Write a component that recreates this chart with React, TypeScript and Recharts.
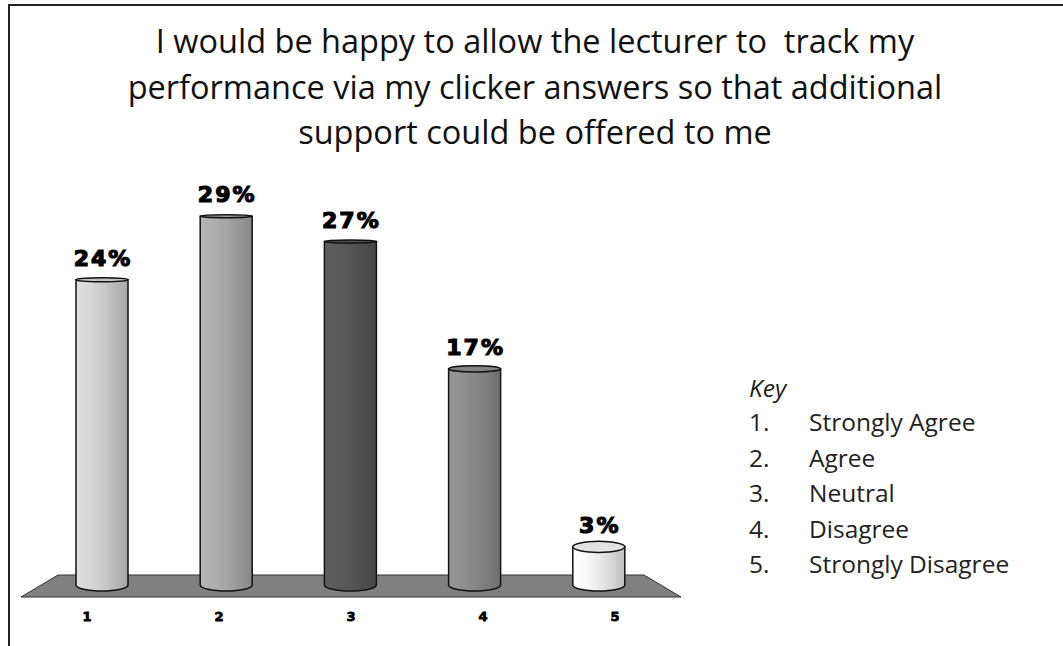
import React from "react";
import { BarChart, Bar, XAxis, YAxis, LabelList } from "recharts";

const categories = ["1", "2", "3", "4", "5"];
const percentValues = [24, 29, 27, 17, 3];
const barColors = ["#cfcfcf", "#a8a8a8", "#575757", "#8a8a8a", "#efefef"];
const keyNumbers = ["1.", "2.", "3.", "4.", "5."];
const keyLabels = ["Strongly Agree", "Agree", "Neutral", "Disagree", "Strongly Disagree"];
const titleLines = [
  "I would be happy to allow the lecturer to  track my",
  "performance via my clicker answers so that additional",
  "support could be offered to me",
];
const keyTitle = "Key";

const data = categories.map((c, i) => ({ category: c, value: percentValues[i] }));

function shade(hex: string, f: number): string {
  const n = parseInt(hex.slice(1), 16);
  const r = Math.min(255, Math.round(((n >> 16) & 255) * f));
  const g = Math.min(255, Math.round(((n >> 8) & 255) * f));
  const b = Math.min(255, Math.round((n & 255) * f));
  return `rgb(${r},${g},${b})`;
}

const Cylinder = (props: any) => {
  const { x, y, width, height, index } = props;
  const rx = width / 2;
  const cx = x + rx;
  const ryTop = Math.max(1.5, (y - 135) * 0.0135);
  const bottom = y + height;
  const ryBot = Math.max(1.5, (bottom - 135) * 0.0135);
  const body = `M${x},${y} L${x},${bottom} A${rx},${ryBot} 0 0 0 ${x + width},${bottom} L${x + width},${y} Z`;
  return (
    <g>
      <path d={body} fill={`url(#cyl${index})`} stroke="#111" strokeWidth={1.5} />
      <ellipse cx={cx} cy={y} rx={rx} ry={ryTop} fill={shade(barColors[index], 0.95)} stroke="#111" strokeWidth={1.5} />
    </g>
  );
};

const renderLabel = (p: any) => {
  const { x, y, width, value } = p;
  return (
    <text
      x={x + width / 2 + 1}
      y={y - 14}
      textAnchor="middle"
      fontFamily="DejaVu Sans"
      fontWeight="bold"
      fontSize={22}
      fill="#000"
      stroke="#000"
      strokeWidth={1.2}
      letterSpacing={2}
    >
      {value}%
    </text>
  );
};

export default function App() {
  return (
    <div style={{ position: "absolute", left: 0, top: 0, width: 1063, height: 646, overflow: "hidden", background: "#fff" }}>
      <div
        style={{
          position: "absolute",
          left: 8,
          top: 4,
          width: 1200,
          height: 800,
          borderLeft: "2px solid #222",
          borderTop: "2px solid #222",
        }}
      />
      <svg style={{ position: "absolute", left: 0, top: 0 }} width={1063} height={646}>
        <polygon points="58,575 644,575 681,597 21,597" fill="#808080" stroke="#333" strokeWidth={1} />
      </svg>
      <div
        style={{
          position: "absolute",
          left: 0,
          top: 18,
          width: 1070,
          textAlign: "center",
          fontFamily: "Open Sans",
          fontSize: 32.5,
          lineHeight: "45.5px",
          color: "#111",
          whiteSpace: "pre",
        }}
      >
        {titleLines.map((l, i) => (
          <div key={i}>{l}</div>
        ))}
      </div>
      <div style={{ position: "absolute", left: 0, top: 0 }}>
        <BarChart width={1063} height={646} data={data} margin={{ top: 178, right: 382, bottom: 31, left: 21 }}>
          <defs>
            {barColors.map((c, i) => (
              <linearGradient key={i} id={`cyl${i}`} x1="0" y1="0" x2="1" y2="0">
                <stop offset="0%" stopColor={shade(c, 1.08)} />
                <stop offset="25%" stopColor={shade(c, 1.04)} />
                <stop offset="50%" stopColor={shade(c, 0.98)} />
                <stop offset="75%" stopColor={shade(c, 0.9)} />
                <stop offset="100%" stopColor={shade(c, 0.8)} />
              </linearGradient>
            ))}
          </defs>
          <XAxis xAxisId="bars" dataKey="category" hide height={0} padding={{ left: 19, right: 20 }} />
          <XAxis
            xAxisId="labels"
            dataKey="category"
            height={30}
            axisLine={false}
            tickLine={false}
            tickSize={0}
            tickMargin={27}
            tick={{ fontFamily: "DejaVu Sans", fontWeight: "bold", fontSize: 13, fill: "#000", stroke: "#000", strokeWidth: 0.8 }}
          />
          <YAxis hide domain={[0, 32]} />
          <Bar dataKey="value" xAxisId="bars" barSize={52} shape={<Cylinder />} isAnimationActive={false}>
            <LabelList dataKey="value" content={renderLabel} />
          </Bar>
        </BarChart>
      </div>
      <div style={{ position: "absolute", left: 749, top: 371, fontFamily: "Open Sans", fontSize: 24.5, fontStyle: "italic", color: "#222", lineHeight: "normal" }}>
        {keyTitle}
      </div>
      {keyLabels.map((k, i) => (
        <div
          key={i}
          style={{ position: "absolute", left: 749, top: 405 + i * 35.6, fontFamily: "Open Sans", fontSize: 24.5, color: "#222", whiteSpace: "pre", lineHeight: "normal" }}
        >
          <span style={{ display: "inline-block", width: 60 }}>{keyNumbers[i]}</span>
          {k}
        </div>
      ))}
    </div>
  );
}
